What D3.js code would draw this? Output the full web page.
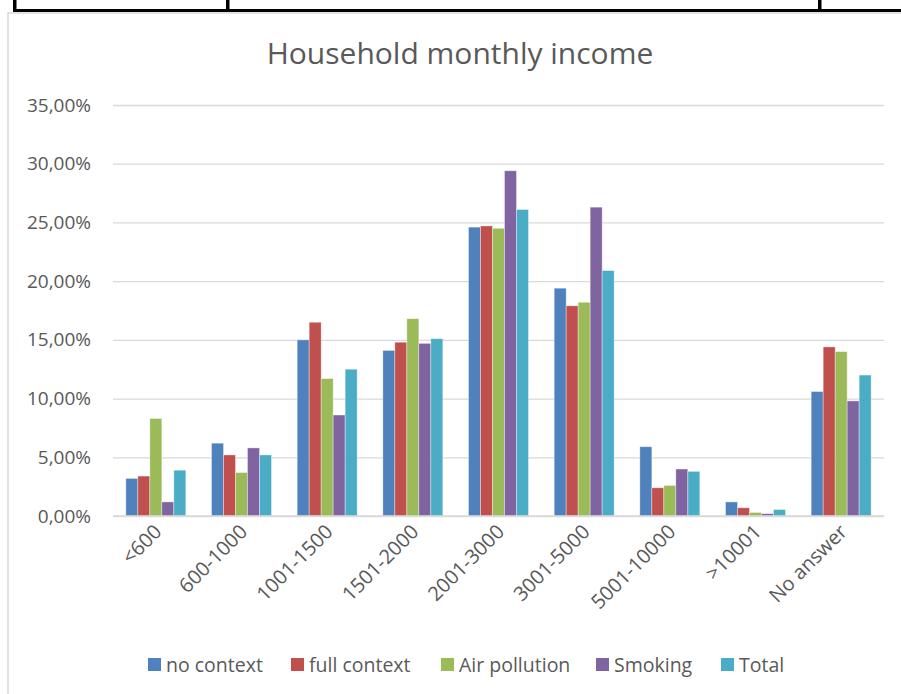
<!DOCTYPE html>
<html>
<head>
<meta charset="utf-8">
<script src="https://cdn.jsdelivr.net/npm/d3@7/dist/d3.min.js"></script>
<style>
  html, body { margin: 0; padding: 0; background: #fff; }
  svg { display: block; }
</style>
</head>
<body>
<svg id="chart" width="901" height="694"></svg>
<script>
const categories = ["<600", "600-1000", "1001-1500", "1501-2000", "2001-3000", "3001-5000", "5001-10000", ">10001", "No answer"];
const seriesNames = ["no context", "full context", "Air pollution", "Smoking", "Total"];
const noContext    = [3.2, 6.2, 15.0, 14.1, 24.6, 19.4, 5.9, 1.2, 10.6];
const fullContext  = [3.4, 5.2, 16.5, 14.8, 24.7, 17.9, 2.4, 0.7, 14.4];
const airPollution = [8.3, 3.7, 11.7, 16.8, 24.5, 18.2, 2.6, 0.3, 14.0];
const smoking      = [1.2, 5.8, 8.6, 14.7, 29.4, 26.3, 4.0, 0.2, 9.8];
const total        = [3.9, 5.2, 12.5, 15.1, 26.1, 20.9, 3.8, 0.55, 12.0];
const yTicks = [0, 5, 10, 15, 20, 25, 30, 35];
const title = "Household monthly income";

const seriesValues = [noContext, fullContext, airPollution, smoking, total];
const colors = ["#4F81BD", "#C0504D", "#9BBB59", "#8064A2", "#4BACC6"];

const svg = d3.select("#chart");
const font = "'Open Sans', 'Noto Sans', sans-serif";
const textColor = "#595959";

// surrounding table lines (document context)
svg.append("rect").attr("x", 8).attr("y", 13).attr("width", 900).attr("height", 700)
  .attr("fill", "#fff").attr("stroke", "#d9d9d9").attr("stroke-width", 1.5);
svg.append("rect").attr("x", 13).attr("y", 9).attr("width", 888).attr("height", 3).attr("fill", "#000");
[13, 226, 818].forEach(x => {
  svg.append("rect").attr("x", x).attr("y", 0).attr("width", 3.5).attr("height", 12).attr("fill", "#000");
});

const margin = { left: 113, right: 884, top: 105, bottom: 516 };

const x0 = d3.scaleBand().domain(categories).range([margin.left, margin.right])
  .paddingInner(0.3).paddingOuter(0.15);
const x1 = d3.scaleBand().domain(seriesNames).range([0, x0.bandwidth()]);
const y = d3.scaleLinear().domain([0, 35]).range([margin.bottom, margin.top]);

// gridlines
const yAxis = d3.axisLeft(y).tickValues(yTicks)
  .tickSize(-(margin.right - margin.left))
  .tickPadding(22)
  .tickFormat(d => d.toFixed(2).replace(".", ",") + "%");
const gy = svg.append("g").attr("transform", `translate(${margin.left},0)`).call(yAxis);
gy.select(".domain").remove();
gy.selectAll(".tick line").attr("stroke", "#d9d9d9").attr("stroke-width", 1.3);
gy.selectAll(".tick text").attr("fill", textColor).style("font-family", font).style("font-size", "19px");

// bars
const groups = svg.append("g").selectAll("g").data(categories).join("g")
  .attr("transform", d => `translate(${x0(d)},0)`);
groups.selectAll("rect")
  .data((c, i) => seriesNames.map((s, j) => ({ s, j, v: seriesValues[j][i] })))
  .join("rect")
  .attr("x", d => x1(d.s))
  .attr("width", x1.bandwidth())
  .attr("y", d => y(d.v))
  .attr("height", d => y(0) - y(d.v))
  .attr("fill", d => colors[d.j])
  .attr("stroke", "#fff").attr("stroke-opacity", 0.45).attr("stroke-width", 0.8);

// baseline
svg.append("line").attr("x1", margin.left).attr("x2", margin.right)
  .attr("y1", y(0)).attr("y2", y(0)).attr("stroke", "#d9d9d9").attr("stroke-width", 1.5);

// x axis labels
const xAxis = d3.axisBottom(x0).tickSize(0).tickPadding(0);
const gx = svg.append("g").attr("transform", `translate(0,${margin.bottom})`).call(xAxis);
gx.select(".domain").remove();
gx.selectAll(".tick text")
  .attr("fill", textColor).style("font-family", font).style("font-size", "20px")
  .attr("text-anchor", "end").attr("dy", "0")
  .attr("transform", "translate(7,17) rotate(-45)");

// title
svg.append("text").attr("x", 460).attr("y", 64).attr("text-anchor", "middle")
  .attr("fill", textColor).style("font-family", font).style("font-size", "30px")
  .text(title);

// legend
const legendX = [148, 291, 441, 596, 721];
const lg = svg.append("g").selectAll("g").data(seriesNames).join("g")
  .attr("transform", (d, i) => `translate(${legendX[i]},658)`);
lg.append("rect").attr("width", 13).attr("height", 13).attr("fill", (d, i) => colors[i]);
lg.append("text").attr("x", 18).attr("y", 14).attr("fill", textColor)
  .style("font-family", font).style("font-size", "19.5px").text(d => d);
</script>
</body>
</html>
